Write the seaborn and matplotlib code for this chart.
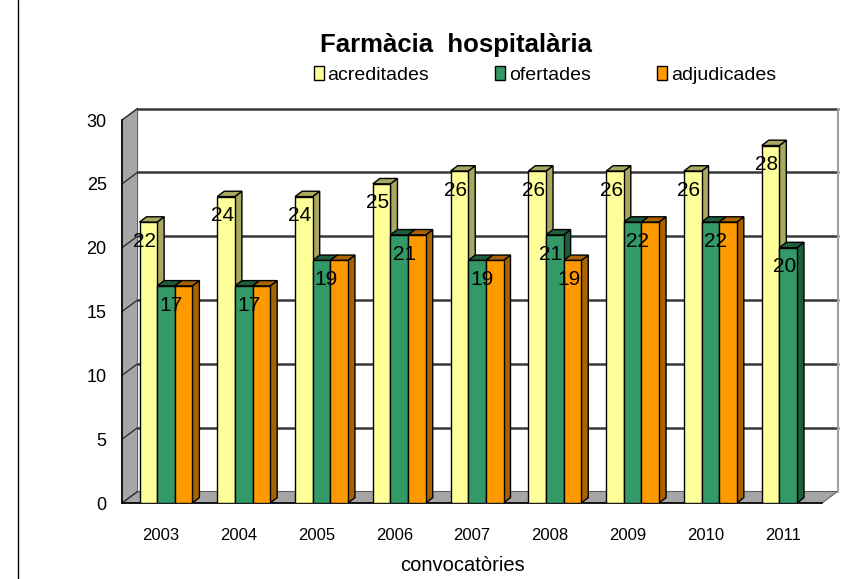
import numpy as np
import pandas as pd
import matplotlib
matplotlib.use("Agg")
import matplotlib.pyplot as plt
from matplotlib.patches import Polygon, Patch
from matplotlib.lines import Line2D
import seaborn as sns

# dades
years = ["2003", "2004", "2005", "2006", "2007", "2008", "2009", "2010", "2011"]
acreditades = [22, 24, 24, 25, 26, 26, 26, 26, 28]
ofertades = [17, 17, 19, 21, 19, 21, 22, 22, 20]
adjudicades = [17, 17, 19, 21, 19, 19, 22, 22, np.nan]
series = ["acreditades", "ofertades", "adjudicades"]
colors = ["#FFFF99", "#339966", "#FF9900"]
side_colors = ["#A8A860", "#1E5E3D", "#A86300"]

df = pd.DataFrame({
    "any": years * 3,
    "serie": [s for s in series for _ in years],
    "valor": acreditades + ofertades + adjudicades,
})

sns.set_style("white")
plt.rcParams["font.family"] = ["Liberation Sans", "DejaVu Sans"]
plt.rcParams["text.color"] = "black"
plt.rcParams["xtick.color"] = "black"
plt.rcParams["ytick.color"] = "black"

fig = plt.figure(figsize=(8.46, 5.79), dpi=100)
ax = fig.add_axes([122 / 846, 1 - 503 / 579, 700 / 846, 383 / 579])

sns.barplot(data=df, x="any", y="valor", hue="serie", hue_order=series,
            palette=colors, width=0.68, saturation=1, edgecolor="black",
            linewidth=1, legend=False, zorder=3, ax=ax)

ax.set_xlim(-0.5, 8.5)
ax.set_ylim(0, 30)

# petit desplaçament per la perspectiva
shift = 0.065
for p in ax.patches:
    p.set_x(p.get_x() + shift)

# efecte 3D de les barres
dx, dy = 0.09, 0.42
for cont, sc in zip(ax.containers, side_colors):
    for p in cont.patches:
        h = p.get_height()
        if not np.isfinite(h) or h == 0:
            continue
        x0 = p.get_x()
        x1 = x0 + p.get_width()
        side = Polygon([(x1, 0), (x1 + dx, dy), (x1 + dx, h + dy), (x1, h)],
                       closed=True, facecolor=sc, edgecolor="black", lw=1, zorder=2)
        top = Polygon([(x0, h), (x1, h), (x1 + dx, h + dy), (x0 + dx, h + dy)],
                      closed=True, facecolor=sc, edgecolor="black", lw=1, zorder=2)
        ax.add_patch(side)
        ax.add_patch(top)

# paret i terra
wdx, wdy = 0.2, 0.9
wall = Polygon([(-0.5, 0), (-0.5 + wdx, wdy), (-0.5 + wdx, 30 + wdy), (-0.5, 30)],
               closed=True, facecolor="#A6A6A6", edgecolor="#606060", lw=0.8,
               zorder=1, clip_on=False)
floor = Polygon([(-0.5, 0), (8.5, 0), (8.5 + wdx, wdy), (-0.5 + wdx, wdy)],
                closed=True, facecolor="#A6A6A6", edgecolor="#606060", lw=0.8,
                zorder=1, clip_on=False)
ax.add_patch(wall)
ax.add_patch(floor)

for v in range(5, 35, 5):
    ax.plot([-0.5 + wdx, 8.5 + wdx], [v + wdy, v + wdy], color="#383838",
            lw=1.8, zorder=1, clip_on=False)
for v in range(0, 35, 5):
    ax.plot([-0.5, -0.5 + wdx], [v, v + wdy], color="#303030", lw=1,
            zorder=1.5, clip_on=False)
ax.plot([8.5 + wdx, 8.5 + wdx], [wdy, 30 + wdy], color="#A0A0A0", lw=1.5,
        zorder=1, clip_on=False)

# etiquetes de dades
off = 0.05
fs = 15
for c, p in enumerate(ax.containers[0].patches):
    ax.text(p.get_x() + p.get_width() / 2 - off, acreditades[c] - 1.5,
            f"{acreditades[c]}", ha="center", va="center", fontsize=fs, zorder=6)
green = ax.containers[1].patches
orange = ax.containers[2].patches
for c in range(len(years)):
    gp = green[c]
    if np.isfinite(adjudicades[c]) and adjudicades[c] == ofertades[c]:
        xc = gp.get_x() + gp.get_width() - off
        ax.text(xc, ofertades[c] - 1.5, f"{ofertades[c]}", ha="center",
                va="center", fontsize=fs, zorder=6)
        continue
    ax.text(gp.get_x() + gp.get_width() / 2 - off, ofertades[c] - 1.5,
            f"{ofertades[c]}", ha="center", va="center", fontsize=fs, zorder=6)
    if np.isfinite(adjudicades[c]):
        op = orange[c]
        ax.text(op.get_x() + op.get_width() / 2 - off, adjudicades[c] - 1.5,
                f"{int(adjudicades[c])}", ha="center", va="center", fontsize=fs, zorder=6)

# eixos
for s in ["top", "right"]:
    ax.spines[s].set_visible(False)
ax.spines["left"].set_color("black")
ax.spines["bottom"].set_color("black")
ax.spines["left"].set_linewidth(1.2)
ax.spines["bottom"].set_linewidth(1.2)
ax.set_yticks(range(0, 35, 5))
ax.tick_params(axis="y", direction="out", length=5, width=1, labelsize=13, pad=6)
ax.set_xticks(np.arange(-0.5, 9, 1))
ax.set_xticklabels([])
ax.set_xticks(range(len(years)), minor=True)
ax.set_xticklabels(years, minor=True, fontsize=12)
ax.tick_params(axis="x", which="major", direction="out", length=6, width=1)
ax.tick_params(axis="x", which="minor", length=0, pad=18)
ax.set_xlabel("")
ax.set_ylabel("")

fig.text(456 / 846, 1 - 52 / 579, "Farmàcia  hospitalària", ha="center",
         va="baseline", fontsize=18.5, fontweight="bold")
fig.text(462 / 846, 1 - 571 / 579, "convocatòries", ha="center", va="baseline",
         fontsize=14.5)

handles = [Patch(facecolor=c, edgecolor="black", lw=1) for c in colors]
fig.legend(handles, series, loc="center", bbox_to_anchor=(545 / 846, 1 - 75 / 579),
           ncol=3, frameon=False, columnspacing=3.4, handletextpad=0.2,
           handlelength=0.52, handleheight=0.72, fontsize=14)

fig.add_artist(Line2D([18 / 846, 18 / 846], [0, 1], color="black", lw=1))

fig.savefig("out.png", dpi=100)
